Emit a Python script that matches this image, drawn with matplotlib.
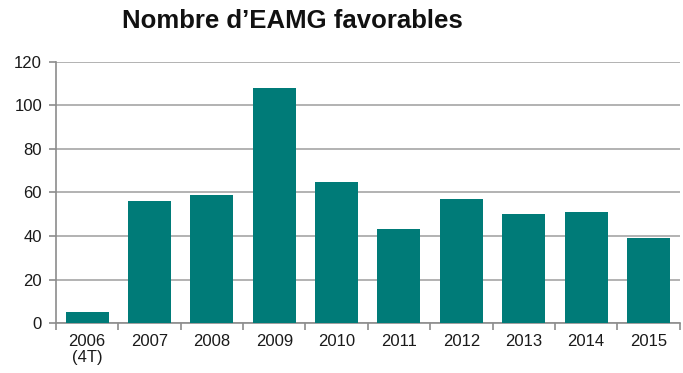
import numpy as np
import matplotlib.pyplot as plt

plt.rcParams['font.family'] = ['Liberation Sans', 'DejaVu Sans']

years = ['2006\n(4T)', '2007', '2008', '2009', '2010', '2011', '2012', '2013', '2014', '2015']
counts = [5, 56, 59, 108, 65, 43, 57, 50, 51, 39]


def main():
    fig = plt.figure(figsize=(6.83, 3.73), dpi=100)
    ax = fig.add_axes([0.082, 0.134, 0.913, 0.700])

    x = np.arange(len(years))
    ax.bar(x, counts, width=0.69, color='#007b78', zorder=3)

    ax.set_ylim(0, 120)
    ax.set_xlim(-0.5, len(years) - 0.5)
    ax.set_yticks(np.arange(0, 121, 20))
    ax.yaxis.grid(True, color='#a6a6a6', linewidth=1.2, zorder=0)

    ax.spines['top'].set_visible(False)
    ax.spines['right'].set_visible(False)
    for s in ('left', 'bottom'):
        ax.spines[s].set_color('#8c8c8c')
        ax.spines[s].set_linewidth(1.2)

    # category labels without ticks, small ticks between categories
    ax.set_xticks(x)
    ax.set_xticklabels(years, linespacing=1.1)
    ax.set_xticks(np.arange(-0.5, len(years), 1), minor=True)
    ax.tick_params(axis='x', which='major', length=0, pad=8, labelsize=12, colors='#1a1a1a')
    ax.tick_params(axis='x', which='minor', length=5, color='#8c8c8c', width=1.2)
    ax.tick_params(axis='y', length=5, color='#8c8c8c', width=1.2, pad=5,
                   labelsize=12, labelcolor='#1a1a1a')

    fig.text(0.428, 0.945, 'Nombre d\u2019EAMG favorables', ha='center', va='center',
             fontsize=18.5, fontweight='bold', color='#111111')

    fig.savefig('out.png', dpi=100)


if __name__ == "__main__":
    main()
